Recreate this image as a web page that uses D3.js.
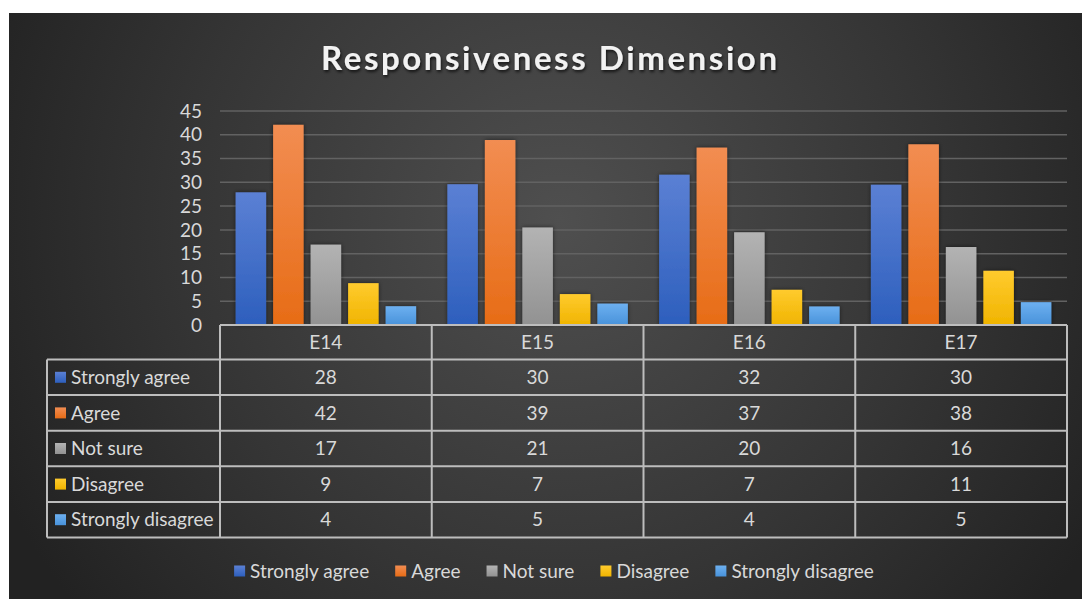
<!DOCTYPE html>
<html>
<head>
<meta charset="utf-8">
<script src="https://cdn.jsdelivr.net/npm/d3@7"></script>
<style>
  html, body { margin: 0; padding: 0; background: #ffffff; }
  svg { display: block; }
  text { font-family: Lato, "Noto Sans", sans-serif; }
</style>
</head>
<body>
<svg id="chart" width="1082" height="599"></svg>
<script>
// categories along the x axis
var categories = ["E14", "E15", "E16", "E17"];
// series names, in legend order
var seriesNames = ["Strongly agree", "Agree", "Not sure", "Disagree", "Strongly disagree"];
// values per series (one per category)
var stronglyAgree = [27.9, 29.6, 31.6, 29.5];
var agree = [42.1, 38.9, 37.3, 38.0];
var notSure = [16.9, 20.5, 19.5, 16.4];
var disagree = [8.8, 6.5, 7.4, 11.4];
var stronglyDisagree = [3.95, 4.5, 3.9, 4.8];
var yTicks = [0, 5, 10, 15, 20, 25, 30, 35, 40, 45];

var seriesValues = [stronglyAgree, agree, notSure, disagree, stronglyDisagree];
// top / bottom colours of each bar gradient
var seriesColors = [
    ["#5b80d4", "#2d5fbd"],
    ["#f28d52", "#e76c16"],
    ["#b3b3b3", "#929292"],
    ["#ffcb2e", "#f0b400"],
    ["#6db0f0", "#4892da"]
];

var svg = d3.select("#chart");
var defs = svg.append("defs");
var fontSize = 19;

//background gradient
var bg = defs.append("radialGradient").attr("id", "bg")
    .attr("gradientUnits", "userSpaceOnUse")
    .attr("cx", 560).attr("cy", 220).attr("r", 620);
bg.append("stop").attr("offset", "0%").attr("stop-color", "#4f4f4f");
bg.append("stop").attr("offset", "60%").attr("stop-color", "#353535");
bg.append("stop").attr("offset", "100%").attr("stop-color", "#222222");

seriesColors.forEach(function (c, i) {
    var g = defs.append("linearGradient").attr("id", "bar" + i)
        .attr("x1", 0).attr("y1", 0).attr("x2", 0).attr("y2", 1);
    g.append("stop").attr("offset", "0%").attr("stop-color", c[0]);
    g.append("stop").attr("offset", "100%").attr("stop-color", c[1]);
});

var shadow = defs.append("filter").attr("id", "shadow")
    .attr("x", "-20%").attr("y", "-20%").attr("width", "140%").attr("height", "140%");
shadow.append("feDropShadow").attr("dx", 0).attr("dy", 0).attr("stdDeviation", 2)
    .attr("flood-color", "#000").attr("flood-opacity", 0.55);

var titleShadow = defs.append("filter").attr("id", "titleShadow")
    .attr("x", "-10%").attr("y", "-30%").attr("width", "120%").attr("height", "160%");
titleShadow.append("feDropShadow").attr("dx", 1).attr("dy", 2).attr("stdDeviation", 1.5)
    .attr("flood-color", "#000").attr("flood-opacity", 0.7);

svg.append("rect").attr("x", 9).attr("y", 13).attr("width", 1073).attr("height", 586)
    .attr("fill", "url(#bg)");

//title
svg.append("text").attr("x", 549).attr("y", 70)
    .attr("text-anchor", "middle")
    .attr("font-size", 33).attr("font-weight", "bold")
    .attr("fill", "#f2f2f2")
    .attr("textLength", 456).attr("lengthAdjust", "spacing")
    .attr("filter", "url(#titleShadow)")
    .text("Responsiveness Dimension");

//scales
var left = 220, right = 1067;
var x = d3.scaleBand().domain(categories).range([left, right]);
var xs = d3.scaleBand().domain(seriesNames).range([0, x.bandwidth()])
    .paddingInner(0.187).paddingOuter(0.417);
var y = d3.scaleLinear().domain([0, 45]).range([325, 111]);

var textColor = "#d9d9d9";
var lineColor = "#bdbdbd";

//grid
svg.append("g").selectAll("line").data(yTicks.filter(function (d) { return d > 0; }))
    .join("line")
    .attr("x1", left).attr("x2", right)
    .attr("y1", function (d) { return y(d); }).attr("y2", function (d) { return y(d); })
    .attr("stroke", "#626262").attr("stroke-width", 1.5);

//y tick labels
svg.append("g").selectAll("text").data(yTicks).join("text")
    .attr("x", 202).attr("y", function (d) { return y(d); })
    .attr("dy", "0.35em").attr("text-anchor", "end")
    .attr("font-size", fontSize).attr("fill", textColor)
    .text(function (d) { return d; });

//bars
var groups = svg.append("g").selectAll("g").data(seriesNames).join("g")
    .attr("fill", function (d, i) { return "url(#bar" + i + ")"; })
    .attr("filter", "url(#shadow)");
groups.selectAll("rect")
    .data(function (s, i) {
        return categories.map(function (c, j) { return { s: s, c: c, v: seriesValues[i][j] }; });
    })
    .join("rect")
    .attr("x", function (d) { return x(d.c) + xs(d.s); })
    .attr("width", xs.bandwidth())
    .attr("y", function (d) { return y(d.v); })
    .attr("height", function (d) { return y(0) - y(d.v); });

//data table
var rowH = 35.6;
var headTop = 325, headBottom = 359.5;
var labelLeft = 47;
var rowY = d3.scaleBand().domain(seriesNames)
    .range([headBottom, headBottom + rowH * seriesNames.length]);
var tableBottom = headBottom + rowH * seriesNames.length;
var fmt = d3.format(".0f");

var table = svg.append("g");

//header
table.selectAll("text.head").data(categories).join("text")
    .attr("class", "head")
    .attr("x", function (d) { return x(d) + x.bandwidth() / 2; })
    .attr("y", (headTop + headBottom) / 2).attr("dy", "0.35em")
    .attr("text-anchor", "middle").attr("font-size", fontSize).attr("fill", textColor)
    .text(function (d) { return d; });

//row labels with swatches
var rows = table.selectAll("g.row").data(seriesNames).join("g").attr("class", "row")
    .attr("transform", function (d) { return "translate(0," + (rowY(d) + rowH / 2) + ")"; });
rows.append("rect").attr("x", 55).attr("y", -5.5).attr("width", 11).attr("height", 11)
    .attr("fill", function (d, i) { return "url(#bar" + i + ")"; });
rows.append("text").attr("x", 71).attr("dy", "0.35em")
    .attr("font-size", fontSize).attr("fill", textColor)
    .text(function (d) { return d; });
rows.selectAll("text.val")
    .data(function (s, i) { return seriesValues[i]; })
    .join("text").attr("class", "val")
    .attr("x", function (d, j) { return x(categories[j]) + x.bandwidth() / 2; })
    .attr("dy", "0.35em").attr("text-anchor", "middle")
    .attr("font-size", fontSize).attr("fill", textColor)
    .text(function (d) { return fmt(d); });

//table lines
var hLines = [];
hLines.push([left, right, headTop]);
seriesNames.forEach(function (s) { hLines.push([labelLeft, right, rowY(s)]); });
hLines.push([labelLeft, right, tableBottom]);
table.selectAll("line.h").data(hLines).join("line").attr("class", "h")
    .attr("x1", function (d) { return d[0]; }).attr("x2", function (d) { return d[1]; })
    .attr("y1", function (d) { return d[2]; }).attr("y2", function (d) { return d[2]; })
    .attr("stroke", lineColor).attr("stroke-width", 2);
var vLines = [[labelLeft, headBottom]];
categories.forEach(function (c) { vLines.push([x(c), headTop]); });
vLines.push([right, headTop]);
table.selectAll("line.v").data(vLines).join("line").attr("class", "v")
    .attr("x1", function (d) { return d[0]; }).attr("x2", function (d) { return d[0]; })
    .attr("y1", function (d) { return d[1]; }).attr("y2", tableBottom)
    .attr("stroke", lineColor).attr("stroke-width", 2);

//legend
var legend = svg.append("g");
var items = legend.selectAll("g").data(seriesNames).join("g");
items.append("rect").attr("y", -5.5).attr("width", 11).attr("height", 11)
    .attr("fill", function (d, i) { return "url(#bar" + i + ")"; });
items.append("text").attr("x", 16).attr("dy", "0.35em")
    .attr("font-size", fontSize).attr("fill", textColor)
    .text(function (d) { return d; });
var pos = 0;
var offsets = [];
items.each(function () {
    offsets.push(pos);
    pos += 16 + d3.select(this).select("text").node().getComputedTextLength() + 26;
});
var total = pos - 26;
var startX = 554 - total / 2;
items.attr("transform", function (d, i) { return "translate(" + (startX + offsets[i]) + ",571)"; });
</script>
</body>
</html>
